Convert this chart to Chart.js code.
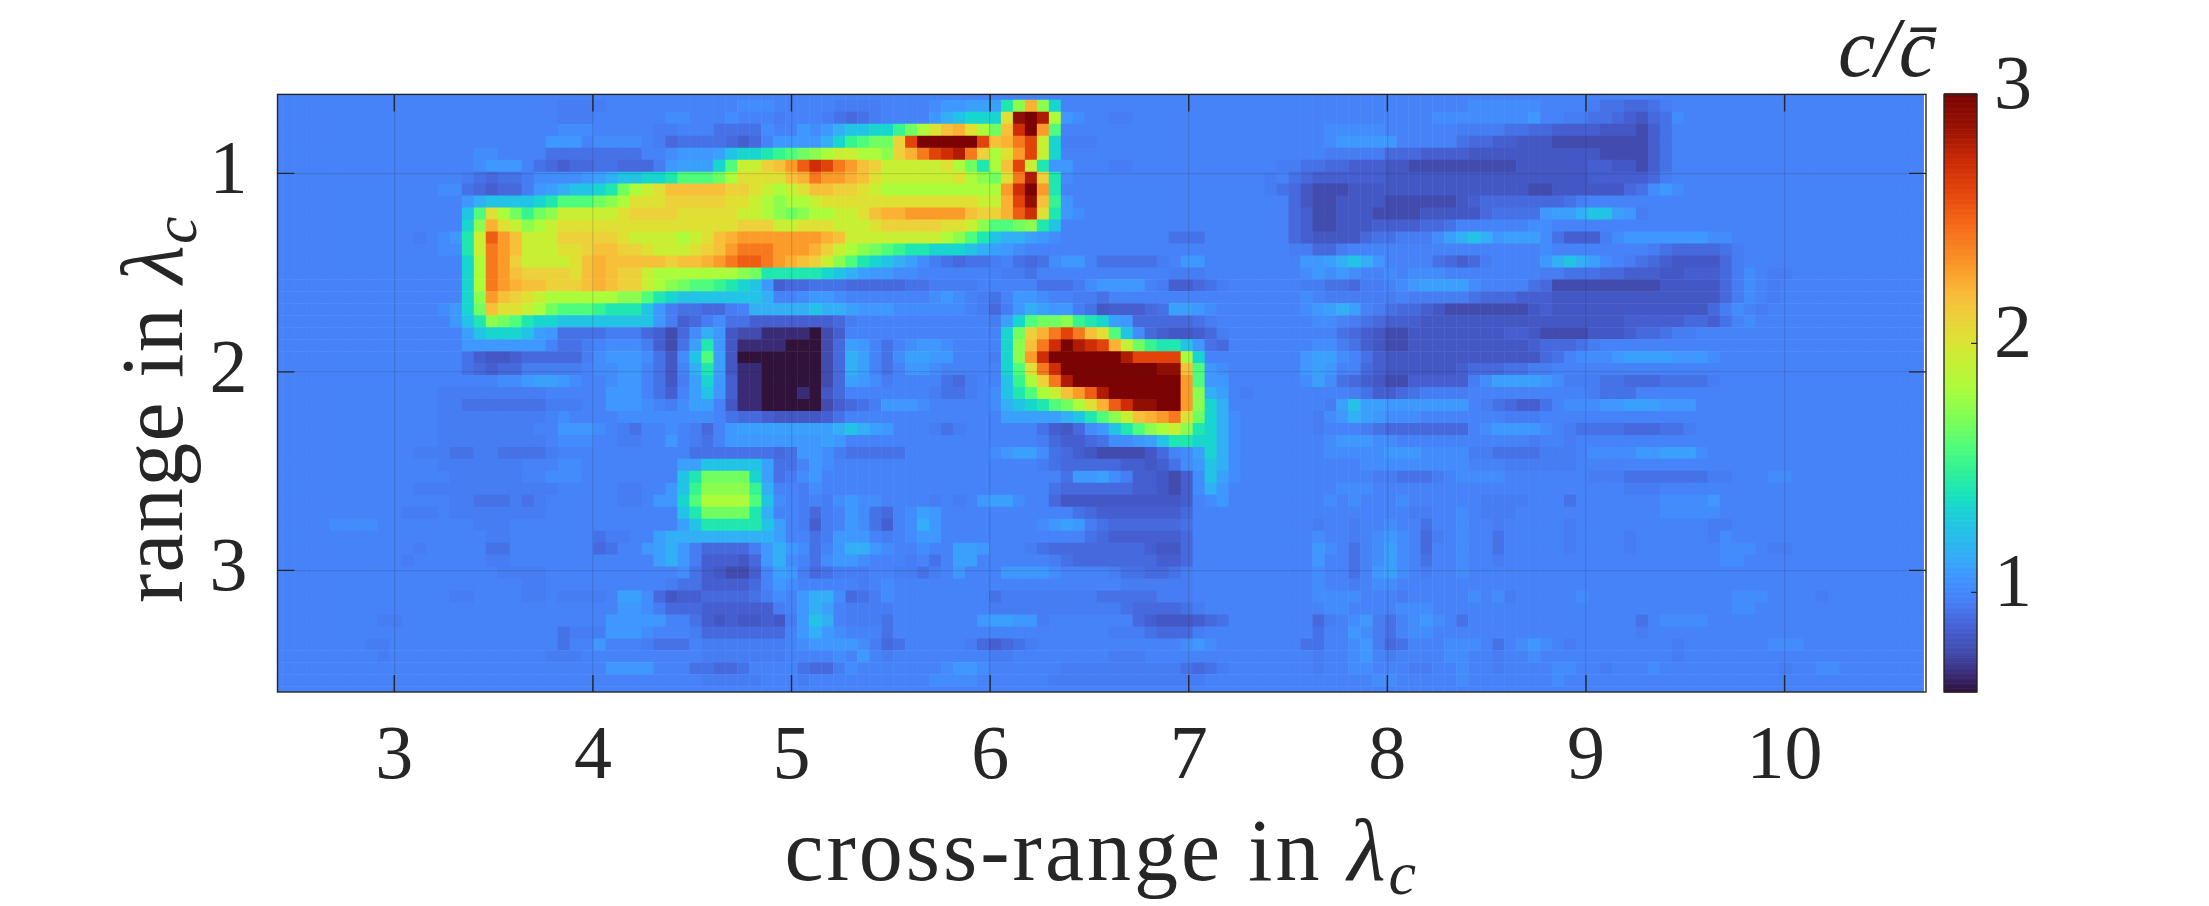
<!DOCTYPE html>
<html>
<head>
<meta charset="utf-8">
<title>c / c-bar map</title>
<script src="https://cdn.jsdelivr.net/npm/chart.js@4"></script>
<style>
    html, body { margin: 0; background: #fff; }
    #wrap { width: 2209px; height: 906px; }
</style>
</head>
<body>
<div id="wrap"><canvas id="map" width="2209" height="906"></canvas></div>
<script>
const xTicks = [3, 4, 5, 6, 7, 8, 9, 10];
const yTicks = [1, 2, 3];
const barTicks = [1, 2, 3];

// reconstruction grid, in wavelengths
const xStart = 2.4063, xStep = 0.06032, colCount = 138;
const yStart = 0.6005, yStep = 0.0603;

// one code per read-off level, darkest to hottest, value is c / c-bar
const levelCodes = "0123456789abcdefghijklmnopqrstuvwx";
const levelValues = [0.60, 0.67, 0.76, 0.82, 0.85, 0.89, 0.92, 0.955, 0.975, 1.02, 1.07, 1.10,
    1.16, 1.26, 1.34, 1.42, 1.51, 1.58, 1.66, 1.73, 1.82, 1.93, 2.02, 2.10, 2.17, 2.23, 2.30,
    2.42, 2.52, 2.62, 2.72, 2.81, 2.90, 3.00];
const backgroundCode = "8";

// per row: [first column, codes from there on]; anything not listed is background
const cellRows = [
/* 0*/ [],
/* 1*/ [[24,"7777"],[39,"999"],[47,"7777"],[55,"9aabbbfjpje"],[100,"999999"],[110,"7665567"]],
/* 2*/ [[24,"777"],[33,"99"],[38,"9"],[42,"7"],[46,"76567"],[55,"acdeeemwxvka9"],[70,"77"],[97,"99999999a"],[108,"7766543569"]],
/* 3*/ [[24,"999"],[32,"77"],[37,"6666"],[41,"9"],[44,"a9"],[46,"acddeegikmopmkiouxqh"],[88,"99999"],[96,"888"],[99,"7777"],[103,"66"],[105,"55"],[107,"4444"],[111,"333"],[114,"246"]],
/* 4*/ [[23,"aaa"],[27,"9999"],[32,"756666"],[38,"5458aaaa"],[46,"ceghiintxxxxxtoprtle777"],[88,"9aaaaa"],[96,"888"],[99,"655"],[102,"44"],[104,"333"],[107,"2222222"],[114,"246"]],
/* 5*/ [[17,"99"],[23,"66666666"],[33,"9aaabdeefghij"],[46,"kllkkjnprtuvrnkmqtle"],[88,"77777555"],[96,"4444"],[100,"33333333333"],[111,"2222"],[115,"46"]],
/* 6*/ [[17,"9aaa"],[22,"65455665557abbbehllnoqsu"],[46,"trqonlllllmkifkotlfaa"],[70,"77"],[84,"77"],[86,"6655444332222222223333334433246"]],
/* 7*/ [[16,"7656679999abcddeefhhhikmmmmopr"],[46,"qqpomllllllmkjimrvnf9"],[83,"7"],[85,"6"],[86,"54444443333333333333333344444 57"]],
/* 8*/ [[14,"99"],[16,"654557abcddefiklmooooonnmlklmo"],[46,"onnmlkkkkkkkkkkquxqf"],[83,"765"],[86,"322233333333333333322333333569a9"]],
/* 9*/ [[16,"acddddefhhhijkmmmnnnnnmmlkjkkl"],[46,"mmmmmmmmmmmmmllptwoga"],[85,"5"],[86,"322333322222234555555567"]],
/*10*/ [[16,"dhmkigijlllllmnnnnmmmmmllkjijk"],[46,"kllmoppqqqqqonnpsumfa9"],[85,"5"],[86,"42233322223333356666abbcddba7"]],
/*11*/ [[16,"ejpmljklmmmmmmmmmmmmmmmnnnllmm"],[46,"mlllmnnnnnmmljhhijfd"],[85,"5"],[86,"422333444455 6"],[105,"99"]],
/*12*/ [[12,"7"],[14,"9a"],[16,"flsqolllnnnnnmllllklmopqqqqqqq"],[46,"pollllllllkjhfdccba9"],[75,"666"],[85,"5"],[86,"433335667779bcdcabbb9644479aaaaaaa99"]],
/*13*/ [[14,"99"],[16,"flrqolllmmnoonnmlllmnoqrrrqqqp"],[46,"nlkjihgffeeedcba9"],[85,"77557"],[106,"9"],[114,"876555567"]],
/*14*/ [[16,"ekrqnllllmopooooonoopqrssrqpon"],[46,"ljhfedcb976566786569aa86666678aa"],[86,"aabcdca8"],[97,"65457"],[106,"acdcb987654333357"]],
/*15*/ [[16,"ekrqonnnnmoponnlkkkkkkkjiffffff"],[46,"edcbaa99"],[61,"776"],[75,"777"],[86,"9a9a9"],[93,"9"],[95,"999"],[103,"888"],[106,"77"],[108,"666"],[111,"55"],[113,"444"],[116,"33"],[118,"444"],[121,"579877"]],
/*16*/ [[16,"ekrqpoonnnoponnlkjihhgfeda4556"],[46,"6655555667777"],[64,"66679aaaa8744567"],[86,"776657789abbbb98"],[105,"6522222222233333 57987"]],
/*17*/ [[16,"ejqonmlkkkkkkjjhfedddddddc889a"],[46,"a9"],[55,"9a9"],[59,"76"],[62,"aa9"],[67,"776"],[86,"9"],[88,"77777"],[93,"7"],[95,"77777"],[100,"6555"],[104,"444"],[107,"3333333333333357987"]],
/*18*/ [[14,"9a"],[16,"eiommlkihhhgfffda7665578cccccd"],[46,"ccbaaa9999"],[56,"99"],[59,"757acbaa7"],[68,"6344456bba9"],[86,"9abcb8765543222222234333333333333357987"]],
/*19*/ [[15,"adfjihfeedddddddda74579664444444"],[46,"457"],[60,"7behiijgfeba"],[72,"5555567"],[87,"99"],[90,"7654"],[94,"443"],[97,"3333333333333333"],[113,"444"],[116,"44554"],[121,"689"]],
/*20*/ [[16,"bdeeedba6666777542"],[34,"59ca32211110"],[46,"24"],[61,"einprtromhd95433457"],[88,"8654322333333334432222333455677"]],
/*21*/ [[16,"aaaaaaa8667899974"],[33,"26bfa31111000"],[46,"25ba8689aa98"],[61,"ejoruxvutpligffda65"],[87,"99764322333333333345556 7"]],
/*22*/ [[16,"6433455555"],[26,"79aaa9639dhb30000000"],[46,"25cb869bbaa8"],[60,"7ejquxxxxxxvttttke8"],[86,"abb986433333333333335689 99abbbbaaa9"]],
/*23*/ [[16,"6545577777899aa8638cfb31100000"],[46,"25cb868aa9"],[60,"8ehmruxxxxxxxxwwoha9"],[86,"aba885433333345556677"]],
/*24*/ [[18,"899abba9"],[28,"9aa"],[32,"637bea41100000"],[46,"25ba97"],[56,"657"],[60,"8dgknrvxxxxxxxxxqhaa"],[86,"9b96543224444479bbbba97776655566667"]],
/*25*/ [[14,"777777777"],[28,"aaa"],[32,"648bda41100010"],[46,"35"],[55,"7667"],[60,"9dfhkloqsvxxxxxxqjcb87"],[88,"887644567777"],[110,"7666"]],
/*26*/ [[14,"776666666777"],[28,"aaa9879bb83"],[39,"1100000"],[46,"24567aaa9"],[60,"9cdefhikmpsuwwxxqjec"],[87,"87bdbbaaaaaaa87654468999aabbbaaa"]],
/*27*/ [[14,"77777777"],[22,"7"],[24,"9"],[29,"99999999865543333"],[46,"46"],[61,"bbbbbcdfhjlopqrmiec9"],[87,"79acba999"],[103,"777"]],
/*28*/ [[14,"77777777"],[24,"aaa9"],[29,"768"],[33,"9"],[35,"758abbbbbbb"],[46,"bcdcba"],[55,"767"],[64,"64359adfhjkljfec9"],[87,"7"],[90,"876555555589aaaa9876666555667"]],
/*29*/ [[14,"777777777"],[24,"999"],[29,"77"],[33,"a"],[35,"768aaaaaaaa"],[46,"ba"],[64,"75445699abdffeec9"],[88,"9aaa99"],[105,"7"],[108,"7"]],
/*30*/ [[12,"777667766667"],[35,"666666656aa"],[46,"9766666"],[60,"9abb"],[64,"9654322223589bec9"],[88,"99999aaa9999776666777"],[110,"9999aabbb9"]],
/*31*/ [[14,"7777777"],[24,"99"],[34,"bbdddddb668a"],[46,"9"],[64,"765555544346"],[76,"9adc9"],[91,"999999999"],[103,"777777"]],
/*32*/ [[15,"777777"],[23,"999"],[34,"dfiiiieb679a"],[66,"6aab97443249db9"],[92,"776667"],[99,"9999"],[110,"777"],[113,"6666666"],[120,"77"],[125,"99"]],
/*33*/ [[12,"77777777777"],[23,"788"],[29,"77"],[33,"adgjjjjgc"],[44,"79"],[65,"6555555443249ca"],[89,"999"],[113,"777"]],
/*34*/ [[15,"77666767"],[29,"77"],[32,"aaehkkkkhd9"],[44,"78"],[46,"79a99"],[55,"787"],[59,"abb9"],[65,"53333333333489a"],[88,"9"],[90,"9"],[94,"9"],[101,"7777"],[108,"6"],[116,"9999a"]],
/*35*/ [[11,"777"],[15,"77777777"],[34,"dfiiiifc"],[43,"875"],[46,"78a96589ba"],[67,"65444444458"],[95,"77"],[99,"9"],[101,"777"],[116,"99999"]],
/*36*/ [[5,"9999"],[17,"777"],[34,"bdfffffdb874"],[46,"78a96489ca"],[60,"8"],[64,"9aba765555556"],[87,"7"],[90,"7"],[93,"9"],[96,"6"],[99,"9"],[102,"7"],[108,"7"],[120,"77"]],
/*37*/ [[18,"77"],[27,"677"],[32,"bcccccccccb"],[45,"6"],[46,"7aaa87"],[53,"9aa"],[62,"8"],[68,"65444444"],[76,"5"],[87,"9"],[90,"7"],[92,"9a9"],[96,"57"],[99,"9"],[102,"6"],[108,"7"],[113,"7"],[120,"79"]],
/*38*/ [[12,"7"],[18,"66"],[27,"56"],[31,"abca755557aca96"],[46,"8acca9"],[54,"9"],[57,"bba"],[63,"76555555554335"],[87,"a9"],[90,"6"],[92,"9b9"],[96,"5"],[99,"9"],[102,"6"],[108,"7"],[113,"7"],[121,"999"],[125,"77"]],
/*39*/ [[11,"7"],[18,"77"],[32,"bca744435ac986"],[46,"9aa9"],[52,"8786"],[57,"bb"],[65,"765555555445"],[87,"a"],[90,"6"],[92,"9b9"],[96,"6"],[99,"9"],[102,"7"],[121,"99"]],
/*40*/ [[19,"7777"],[34,"96432248ba75"],[46,"6777"],[51,"87767"],[57,"a"],[60,"8aaaa9"],[70,"7665567"],[87,"9"],[90,"6"],[92,"ab9"],[96,"7"],[99,"9"]],
/*41*/ [[21,"77"],[33,"766444458a988"],[49,"7"],[51,"9"],[71,"777777"],[87,"9"],[90,"7"],[92,"99"]],
/*42*/ [[15,"77"],[21,"77"],[24,"7777"],[29,"bb953445555679"],[44,"ac"],[46,"c95679"],[60,"677777777"],[69,"66666777"],[87,"9999"],[94,"7"],[100,"9"],[102,"97"],[109,"9"],[122,"999"],[129,"7"]],
/*43*/ [[29,"aa9755544444"],[41,"47"],[44,"acb87777"],[52,"8"],[60,"777777777776555567"],[88,"99"],[94,"999"],[122,"99"]],
/*44*/ [[9,"77"],[28,"aaaaa8"],[35,"64343343"],[43,"7ad"],[46,"c87776"],[58,"8abbaa7"],[72,"543334568"],[87,"57"],[90,"9a76"],[95,"9a9"],[99,"6"],[114,"6"],[116,"9999"]],
/*45*/ [[24,"6777aaa98"],[35,"75555555"],[43,"8ac"],[46,"a98"],[51,"6"],[70,"77765557"],[87,"6"],[90,"a976"],[95,"99"],[114,"7"]],
/*46*/ [[8,"77"],[24,"6"],[27,"a"],[31,"7666"],[36,"7777777"],[44,"9aaaa97568"],[58,"754567"],[76,"9a9"],[86,"66"],[90,"9a756"],[98,"999"],[102,"6"],[104,"9a9"],[108,"7"],[117,"7"],[125,"999"]],
/*47*/ [[9,"7"],[23,"777"],[36,"7777777"],[47,"9"],[49,"a"],[51,"7"],[60,"77"],[70,"777"],[87,"7"],[90,"9a"],[93,"7"],[98,"99"],[102,"7"],[105,"9"],[117,"7"]],
/*48*/ [[28,"aaaa"],[35,"66556"],[44,"65"],[46,"579"],[50,"8"],[56,"9aa9"],[66,"77777777776567"],[87,"7"],[90,"99"],[95,"77"],[99,"9"],[102,"7"],[107,"99"],[111,"7"],[115,"9"],[126,"7"],[129,"99"]],
/*49*/ [[36,"77777"],[44,"7"],[55,"9999"],[65,"7777777777777"],[92,"99"],[99,"9"],[107,"9"]],
/*50*/ []
];

const inkColor = "#262626";
const serif = "'Liberation Serif', serif";

// turbo colormap stops: position, r, g, b
const turboStops = [
    [0, 48, 18, 59], [0.03, 58, 44, 120], [0.065, 65, 75, 172], [0.111, 70, 98, 215],
    [0.155, 70, 130, 248], [0.175, 66, 140, 252], [0.195, 63, 151, 255], [0.222, 54, 170, 249],
    [0.275, 34, 195, 228], [0.31, 25, 214, 207], [0.333, 26, 228, 182], [0.38, 55, 245, 143],
    [0.41, 80, 252, 122], [0.444, 114, 254, 94], [0.51, 172, 252, 58], [0.556, 200, 239, 52],
    [0.59, 221, 226, 51], [0.625, 236, 209, 58], [0.667, 250, 186, 57], [0.71, 251, 154, 41],
    [0.778, 246, 107, 25], [0.84, 227, 68, 10], [0.889, 203, 42, 4], [0.95, 150, 16, 3],
    [1, 122, 4, 3]
];

function valueColor(v) {
    const t = Math.min(1, Math.max(0, (v - 0.6) / 2.4));
    let i = 1;
    while (i < turboStops.length - 1 && turboStops[i][0] < t) i++;
    const a = turboStops[i - 1], b = turboStops[i];
    const f = (t - a[0]) / (b[0] - a[0]);
    const mix = k => Math.round(a[k] + (b[k] - a[k]) * f);
    return `rgb(${mix(1)},${mix(2)},${mix(3)})`;
}

function buildCells() {
    const cells = [];
    cellRows.forEach((patches, row) => {
        const line = new Array(colCount).fill(backgroundCode);
        patches.forEach(([col, codes]) => {
            codes.replace(/ /g, "").split("").forEach((code, i) => { line[col + i] = code; });
        });
        line.forEach((code, col) => {
            cells.push({
                x: xStart + col * xStep,
                y: yStart + row * yStep,
                v: levelValues[levelCodes.indexOf(code)]
            });
        });
    });
    return cells;
}

function keepTicks(list) {
    return scale => { scale.ticks = list.map(value => ({ value })); };
}

// the labels of one axis must not push the plot area around
function fixSize(prop, size) {
    return scale => {
        scale[prop] = size;
        scale.paddingLeft = scale.paddingRight = scale.paddingTop = scale.paddingBottom = 0;
    };
}

// draws [text, font, dy] pieces one after another from x, y
function drawPieces(ctx, pieces, x, y) {
    pieces.forEach(([text, font, dy]) => {
        ctx.font = font;
        ctx.fillText(text, x, y + dy);
        x += ctx.measureText(text).width;
    });
}
function piecesWidth(ctx, pieces) {
    return pieces.reduce((w, [text, font]) => {
        ctx.font = font;
        return w + ctx.measureText(text).width;
    }, 0);
}

const axisLabel = words => [
    [words + " in ", `88px ${serif}`, 0],
    ["λ", `italic 88px ${serif}`, 0],
    ["c", `italic 62px ${serif}`, 14]
];

const furniture = {
    id: "furniture",
    afterDraw(chart) {
        const { ctx, chartArea: a, scales } = chart;
        ctx.save();
        ctx.strokeStyle = inkColor;
        ctx.fillStyle = inkColor;

        // inward ticks on all four sides of the map
        ctx.lineWidth = 1.4;
        ctx.beginPath();
        xTicks.forEach(t => {
            const px = scales.x.getPixelForValue(t);
            ctx.moveTo(px, a.top); ctx.lineTo(px, a.top + 17);
            ctx.moveTo(px, a.bottom); ctx.lineTo(px, a.bottom - 17);
        });
        yTicks.forEach(t => {
            const py = scales.y.getPixelForValue(t);
            ctx.moveTo(a.left, py); ctx.lineTo(a.left + 17, py);
            ctx.moveTo(a.right, py); ctx.lineTo(a.right - 17, py);
        });
        ctx.stroke();
        ctx.strokeRect(a.left, a.top, a.right - a.left, a.bottom - a.top);

        // colour bar, through its own axis
        const barLeft = 1944, barRight = 1977;
        const bar = scales.bar;
        for (let v = bar.min; v < bar.max; v += 0.005) {
            const top = bar.getPixelForValue(v + 0.005);
            ctx.fillStyle = valueColor(v);
            ctx.fillRect(barLeft, top, barRight - barLeft, bar.getPixelForValue(v) - top + 0.6);
        }
        ctx.fillStyle = inkColor;
        ctx.strokeRect(barLeft, a.top, barRight - barLeft, a.bottom - a.top);
        ctx.beginPath();
        barTicks.forEach(t => {
            const py = bar.getPixelForValue(t);
            ctx.moveTo(barRight, py); ctx.lineTo(barRight - 6, py);
        });
        ctx.stroke();

        // axis names with their subscripts
        ctx.textBaseline = "alphabetic";
        ctx.textAlign = "left";
        ctx.letterSpacing = "3px";
        const xName = axisLabel("cross-range");
        drawPieces(ctx, xName, (a.left + a.right) / 2 - piecesWidth(ctx, xName) / 2, 880);

        ctx.letterSpacing = "1.3px";
        const yName = axisLabel("range");
        ctx.save();
        ctx.translate(182, (a.top + a.bottom) / 2 + 16);
        ctx.rotate(-Math.PI / 2);
        drawPieces(ctx, yName, -piecesWidth(ctx, yName) / 2, 0);
        ctx.restore();
        ctx.letterSpacing = "0px";

        ctx.textAlign = "right";
        ctx.font = `italic 84px ${serif}`;
        ctx.fillText("c/c\u0304", 1936, 76);
        ctx.restore();
    }
};

document.addEventListener("DOMContentLoaded", () => {
    const tickFont = { family: "'Liberation Serif', serif", size: 76 };

    new Chart(document.getElementById("map"), {
        type: "scatter",
        data: {
            datasets: [{
                data: buildCells(),
                pointStyle: "rect",
                borderWidth: 0,
                pointBorderWidth: 0,
                pointBackgroundColor: c => valueColor(c.raw.v),
                pointRadius: c => {
                    const x = c.chart.scales.x;
                    return Math.SQRT2 * (Math.abs(x.getPixelForValue(xStep) - x.getPixelForValue(0)) / 2 + 0.25);
                }
            }]
        },
        options: {
            responsive: false,
            animation: false,
            events: [],
            parsing: false,
            layout: { padding: { top: 94.4 } },
            plugins: { legend: { display: false }, tooltip: { enabled: false } },
            scales: {
                x: {
                    type: "linear",
                    min: 2.412,
                    max: 10.712,
                    afterBuildTicks: keepTicks(xTicks),
                    afterFit: fixSize("height", 214),
                    border: { display: false },
                    grid: { color: "rgba(38,38,38,0.15)", lineWidth: 1.3, z: 1, drawTicks: false },
                    ticks: { font: tickFont, color: inkColor, padding: 20, maxRotation: 0, autoSkip: false }
                },
                y: {
                    type: "linear",
                    reverse: true,
                    min: 0.602,
                    max: 3.613,
                    afterBuildTicks: keepTicks(yTicks),
                    afterFit: fixSize("width", 277.5),
                    border: { display: false },
                    grid: { color: "rgba(38,38,38,0.15)", lineWidth: 1.3, z: 1, drawTicks: false },
                    ticks: { font: tickFont, color: inkColor, padding: 30, autoSkip: false }
                },
                bar: {
                    type: "linear",
                    position: "right",
                    min: 0.6,
                    max: 3,
                    afterBuildTicks: keepTicks(barTicks),
                    afterFit: fixSize("width", 283),
                    border: { display: false },
                    grid: { display: false, drawTicks: false },
                    ticks: { font: tickFont, color: inkColor, padding: 68, labelOffset: -6, autoSkip: false }
                }
            }
        },
        plugins: [furniture]
    });
});
</script>
</body>
</html>
